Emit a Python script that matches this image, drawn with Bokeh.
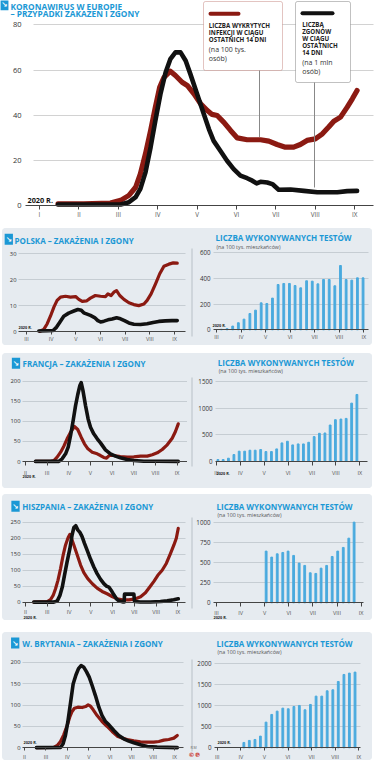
from bokeh.plotting import figure
from bokeh.models import Range1d, FixedTicker, Label, BoxAnnotation, Arrow, Spacer, Grid
from bokeh.layouts import column, row
from bokeh.embed import file_html
from bokeh.resources import INLINE

# ---------------- data (x in month units: 1 = I, 2 = II, ...) ----------------
roman = ["I", "II", "III", "IV", "V", "VI", "VII", "VIII", "IX"]
months = [1, 2, 3, 4, 5, 6, 7, 8, 9]

eu_inf_x = [1.47, 2.12, 2.80, 3.06, 3.27, 3.44, 3.56, 3.69, 3.82, 3.94, 4.05, 4.16, 4.32, 4.45, 4.62, 4.75, 4.92, 5.09, 5.26, 5.38,
            5.51, 5.68, 5.85, 6.02, 6.27, 6.61, 6.82, 7.03, 7.24, 7.45, 7.62, 7.79, 8.00, 8.18, 8.34, 8.47, 8.64, 8.81, 8.94, 9.06]
eu_inf = [0.9, 0.9, 1.2, 2.4, 4.6, 8.2, 14.1, 23.0, 33.3, 43.6, 52.4, 56.8, 59.5, 57.6, 54.6, 53.2, 49.5, 45.1, 42.1, 40.4,
          39.9, 36.9, 33.3, 30.0, 29.2, 29.2, 28.6, 27.1, 25.9, 25.9, 27.1, 28.9, 29.6, 31.8, 34.8, 37.4, 39.2, 43.6, 47.3, 51.0]
eu_dea_x = [1.47, 3.06, 3.27, 3.44, 3.56, 3.69, 3.82, 3.94, 4.07, 4.20, 4.32, 4.45, 4.58, 4.71, 4.83, 5.00, 5.17, 5.30, 5.42, 5.59,
            5.76, 5.93, 6.10, 6.27, 6.40, 6.51, 6.61, 6.78, 6.91, 7.07, 7.37, 7.71, 8.05, 8.56, 8.81, 9.06]
eu_dea = [0.6, 0.6, 1.6, 3.8, 7.5, 14.8, 25.9, 37.6, 49.4, 58.9, 64.8, 67.8, 67.8, 64.1, 58.2, 49.4, 40.6, 33.9, 28.7, 24.3,
          19.9, 16.2, 13.3, 12.2, 11.1, 9.9, 10.6, 10.3, 9.6, 7.1, 7.2, 6.6, 6.0, 6.0, 6.5, 6.6]
eu_yticks = [0, 20, 40, 60, 80]

pl_inf_x = [3.54, 3.70, 3.84, 3.97, 4.11, 4.24, 4.38, 4.58, 4.78, 4.99, 5.12, 5.26, 5.43, 5.59, 5.79, 6.00, 6.20, 6.30, 6.43, 6.54,
            6.65, 6.78, 6.95, 7.15, 7.35, 7.55, 7.76, 7.89, 8.05, 8.23, 8.40, 8.57, 8.77, 8.95, 9.11]
pl_inf = [0.1, 0.8, 3.0, 5.9, 9.4, 12.0, 13.3, 13.6, 13.3, 13.5, 12.4, 11.6, 11.8, 12.9, 13.9, 13.6, 13.5, 14.5, 13.9, 15.2,
          15.8, 13.9, 12.4, 11.1, 10.4, 10.0, 10.6, 12.0, 14.5, 18.4, 22.3, 25.2, 26.0, 26.5, 26.4]
pl_dea_x = [3.50, 3.84, 4.08, 4.22, 4.35, 4.51, 4.71, 4.92, 5.08, 5.22, 5.32, 5.43, 5.59, 5.76, 5.89, 6.00, 6.14, 6.30, 6.47, 6.65,
            6.81, 6.97, 7.15, 7.35, 7.62, 7.89, 8.13, 8.36, 8.63, 8.90, 9.11]
pl_dea = [0.2, 0.3, 0.4, 1.7, 3.6, 5.9, 7.1, 7.9, 8.5, 8.2, 7.2, 6.8, 6.2, 5.4, 4.2, 3.7, 4.0, 4.5, 4.8, 5.3,
          4.9, 4.2, 3.3, 2.8, 2.7, 3.0, 3.5, 3.9, 4.1, 4.2, 4.2]
pl_test_x = [3.20, 3.43, 3.66, 3.89, 4.12, 4.36, 4.59, 4.82, 5.05, 5.28, 5.51, 5.74, 5.97, 6.20, 6.43, 6.67, 6.90, 7.13, 7.36, 7.59,
             7.82, 8.05, 8.28, 8.51, 8.74, 8.97]
pl_test = [4, 9, 29, 55, 83, 127, 153, 210, 205, 247, 353, 361, 361, 345, 327, 382, 379, 358, 392, 392, 343, 501, 392, 387, 405, 405]
pl_yticks = [0, 10, 20, 30]
pl_test_yticks = [0, 200, 400, 600]

fr_inf_x = [2.46, 3.15, 3.31, 3.46, 3.62, 3.77, 3.92, 4.08, 4.26, 4.41, 4.57, 4.72, 4.88, 5.08, 5.31, 5.46, 5.61, 5.74, 5.86, 6.08,
            6.38, 6.69, 7.00, 7.31, 7.62, 7.85, 8.08, 8.31, 8.54, 8.77, 8.92, 9.05]
fr_inf = [0.3, 0.3, 2.5, 10.8, 23.2, 38.0, 56.4, 73.0, 87.0, 79.6, 60.5, 44.0, 31.5, 23.2, 19.1, 14.9, 10.0, 8.3, 14.9, 14.9,
          12.4, 10.8, 11.6, 13.3, 13.3, 16.6, 21.6, 29.9, 41.5, 58.0, 74.6, 93.7]
fr_dea_x = [2.46, 3.54, 3.69, 3.85, 3.97, 4.08, 4.20, 4.31, 4.41, 4.51, 4.57, 4.65, 4.77, 4.89, 5.00, 5.15, 5.31, 5.46, 5.69, 5.92,
            6.15, 6.38, 6.69, 7.00, 7.46, 8.08, 9.05]
fr_dea = [0.2, 0.3, 6.6, 19.1, 35.7, 64.7, 102, 139, 166, 189, 196, 177, 139, 106, 85.4, 68.8, 56.4, 46.4, 29.0, 19.1,
          13.3, 9.1, 5.0, 2.5, 0.8, 0.8, 0.3]
fr_test_x = [3.06, 3.28, 3.50, 3.73, 3.95, 4.18, 4.40, 4.62, 4.85, 5.07, 5.30, 5.52, 5.74, 5.97, 6.19, 6.42, 6.64, 6.86, 7.09, 7.31,
             7.54, 7.76, 7.98, 8.21, 8.43, 8.66, 8.88]
fr_test = [37, 37, 62, 130, 193, 193, 211, 211, 224, 186, 186, 236, 348, 379, 311, 329, 329, 360, 466, 528, 534, 683, 783, 795, 807, 1093, 1255]
fr_yticks = [0, 50, 100, 150, 200]
fr_test_yticks = [0, 500, 1000, 1500]

es_inf_x = [2.38, 3.00, 3.15, 3.27, 3.38, 3.49, 3.61, 3.73, 3.84, 3.96, 4.04, 4.11, 4.22, 4.38, 4.53, 4.68, 4.86, 5.07, 5.29, 5.52,
            5.75, 5.98, 6.21, 6.44, 6.75, 7.06, 7.29, 7.51, 7.71, 7.90, 8.08, 8.28, 8.47, 8.66, 8.82, 8.93, 9.02]
es_inf = [0.3, 2.1, 8.4, 21, 42, 68.3, 105, 147, 179, 202, 212, 200, 179, 147, 116, 92.4, 73.5, 57.8, 44.1, 33.6,
          26.3, 17.9, 10.5, 7.4, 7.4, 10.5, 16.8, 29.4, 47.3, 65.1, 84, 99.8, 121, 152, 179, 200, 231]
es_dea_x = [2.38, 3.30, 3.46, 3.58, 3.69, 3.79, 3.91, 4.04, 4.14, 4.22, 4.31, 4.40, 4.50, 4.60, 4.71, 4.83, 4.99, 5.14, 5.29, 5.45,
            5.60, 5.72, 5.83, 5.94, 6.06, 6.18, 6.29, 6.49, 6.53, 6.55, 6.98, 7.01, 7.28, 7.74, 8.20, 8.51, 8.81, 9.02]
es_dea = [0.3, 0.3, 4.2, 21, 47.3, 84, 126, 168, 210, 233, 239, 226, 218, 205, 184, 163, 134, 110, 89.3, 71.4,
          57.8, 50.4, 47.3, 36.8, 23.1, 10.5, 4.2, 0.5, 0.5, 25.2, 25.2, 2.1, 0.5, 0.5, 2.1, 4.2, 7.4, 10.5]
es_test_x = [5.06, 5.29, 5.52, 5.75, 5.97, 6.20, 6.43, 6.66, 6.89, 7.12, 7.34, 7.57, 7.80, 8.03, 8.26, 8.49, 8.71]
es_test = [646, 571, 612, 629, 646, 592, 496, 467, 375, 367, 433, 467, 579, 646, 692, 808, 1008]
es_yticks = [0, 50, 100, 150, 200, 250]
es_test_yticks = [0, 250, 500, 750, 1000]

uk_inf_x = [2.56, 3.37, 3.53, 3.68, 3.83, 3.99, 4.11, 4.22, 4.33, 4.49, 4.69, 4.85, 4.97, 5.08, 5.20, 5.39, 5.62, 5.86, 6.09, 6.33,
            6.56, 6.79, 7.10, 7.41, 7.73, 8.03, 8.27, 8.50, 8.73, 8.97, 9.13]
uk_inf = [0.3, 0.8, 5.4, 14.8, 30.3, 52.1, 71.5, 84.8, 92.5, 94.9, 94.1, 96.4, 100.3, 97.2, 89.4, 75.4, 61.4, 49.8, 38.1, 27.2,
          22.6, 19.4, 16.3, 14.0, 13.2, 13.2, 14.8, 17.9, 19.4, 22.6, 28.8]
uk_dea_x = [2.56, 3.68, 3.80, 3.91, 4.02, 4.15, 4.27, 4.40, 4.52, 4.64, 4.77, 4.89, 5.02, 5.16, 5.31, 5.47, 5.62, 5.78, 5.94, 6.17,
            6.40, 6.63, 6.87, 7.10, 7.41, 7.73, 8.19, 9.13]
uk_dea = [0.3, 0.8, 9.3, 28.8, 59.9, 106, 149, 170, 185, 192, 188, 178, 165, 145, 122, 94.9, 75.4, 61.4, 53.7, 40.4,
          28.8, 21.0, 15.6, 11.7, 7.0, 3.1, 1.6, 0.3]
uk_test_x = [4.13, 4.36, 4.60, 4.83, 5.07, 5.31, 5.54, 5.78, 6.01, 6.25, 6.48, 6.72, 6.95, 7.19, 7.43, 7.66, 7.90, 8.13, 8.37, 8.60, 8.84]
uk_test = [127, 175, 198, 278, 611, 794, 873, 944, 929, 984, 1008, 905, 1032, 1230, 1230, 1357, 1381, 1579, 1746, 1778, 1802]
uk_yticks = [0, 50, 100, 150, 200]
uk_test_yticks = [0, 500, 1000, 1500, 2000]

# ---------------- style ----------------
FONT = "Open Sans"
BLUE = "#1b98d5"
RED = "#8b1a12"
BLACK = "#111111"
BAR = "#4aaade"
PANEL = "#e6ebf0"
GRID_P = "#c6cdd3"
GRID_T = "#d2d2d2"
AXIS = "#444444"
HAS_CB = "cross_bounds" in Grid.properties()


def fs(v):
    return f"{v:.2f}px"


class Chart:
    """A figure whose frame fills the whole canvas; px/py are page pixel positions."""

    def __init__(self, box, xmap, ymap, bg):
        self.a, self.b = xmap
        self.c, self.d = ymap
        l, t, r, b = box
        self.p = figure(width=int(r - l), height=int(b - t), title=None,
                        output_backend="svg", toolbar_location=None,
                        x_range=Range1d(self.dx(l), self.dx(r)),
                        y_range=Range1d(self.dy(b), self.dy(t)),
                        min_border_left=0, min_border_right=0, min_border_top=0, min_border_bottom=0)
        p = self.p
        p.background_fill_color = bg
        p.border_fill_color = bg
        p.outline_line_color = None
        p.xgrid.visible = False

    def dx(self, px):
        return (px - self.a) / self.b

    def dy(self, py):
        return (self.c - py) / self.d

    def axes(self, xticks, yticks, gticks, grid_color, span, xfs, yfs, tick_out, lab_off, ystand, gx0=None):
        p = self.p
        x0, x1 = span
        g0 = x0 if gx0 is None else gx0
        xa = p.xaxis[0]
        ya = p.yaxis[0]
        xa.fixed_location = 0
        xa.bounds = (self.dx(min(x0, g0)), self.dx(x1))
        xa.ticker = FixedTicker(ticks=xticks)
        xa.major_label_overrides = {t: roman[t - 1] for t in xticks}
        xa.minor_tick_line_color = None
        xa.major_tick_in = 0
        xa.major_tick_out = int(round(tick_out))
        xa.major_label_standoff = max(0, int(round(lab_off - tick_out - 0.62 * xfs)))
        xa.axis_line_color = AXIS
        xa.major_tick_line_color = AXIS
        xa.major_label_text_font_size = fs(xfs)
        xa.major_label_text_color = "#555555"
        xa.major_label_text_font = FONT
        ya.fixed_location = self.dx(g0)
        ya.ticker = FixedTicker(ticks=yticks)
        ya.axis_line_color = None
        ya.major_tick_line_color = None
        ya.minor_tick_line_color = None
        ya.major_tick_in = 0
        ya.major_tick_out = 0
        ya.major_label_standoff = int(round(ystand))
        ya.major_label_text_font_size = fs(yfs)
        ya.major_label_text_color = "#333333"
        ya.major_label_text_font = FONT
        g = p.ygrid[0]
        g.ticker = FixedTicker(ticks=gticks)
        g.grid_line_color = grid_color
        g.grid_line_width = 1
        if HAS_CB:
            g.cross_bounds = (self.dx(g0), self.dx(x1))

    def text(self, px, py, s, size, color, bold=False, align="left", font=FONT, bg=None):
        lab = Label(x=self.dx(px), y=self.dy(py), text=s, text_font_size=fs(size), text_font=font,
                    text_font_style="bold" if bold else "normal", text_color=color,
                    text_align=align, text_baseline="middle")
        if bg is not None:
            lab.background_fill_color = bg
            lab.padding = 1
        self.p.add_layout(lab)

    def seg(self, x1, y1, x2, y2, color, width, cap="butt"):
        self.p.add_layout(Arrow(end=None, x_start=self.dx(x1), y_start=self.dy(y1),
                                x_end=self.dx(x2), y_end=self.dy(y2),
                                line_color=color, line_width=width, line_cap=cap))

    def icon(self, cx, cy):
        self.text(cx, cy, "↘", 7.5, "white", bold=True, align="center", font="DejaVu Sans", bg=BLUE)

    def lines(self, ix, iy, dx_, dy_, wr, wb):
        self.p.line(ix, iy, line_color=RED, line_width=wr, line_join="round", line_cap="round")
        self.p.line(dx_, dy_, line_color=BLACK, line_width=wb, line_join="round", line_cap="round")

    def bars(self, x, top):
        self.p.vbar(x=x, top=top, bottom=0, width=1.8 / self.b, color=BAR)


# ---------------- top: Europe ----------------
top = Chart((0, 0, 375, 228), (-0.4, 39.4), (205.3, 2.2625), "white")
top.axes(months, eu_yticks, eu_yticks[1:], GRID_T, (25, 373), 6.3, 7.5, 4.5, 8, 12, gx0=33)
top.lines(eu_inf_x, eu_inf, eu_dea_x, eu_dea, 5.2, 4.6)
top.icon(3.8, 4.2)
top.text(10, 5.5, "KORONAWIRUS W EUROPIE", 8.3, BLUE, bold=True)
top.text(10, 13, "– PRZYPADKI ZAKAŻEŃ I ZGONY", 8.3, BLUE, bold=True)
top.text(27, 199, "2020 R.", 7.3, "#111111", bold=True)
# legend boxes
top.p.add_layout(BoxAnnotation(left=top.dx(203), right=top.dx(282), top=top.dy(1), bottom=top.dy(70),
                               fill_color="white", fill_alpha=1, line_color="#a33a33", line_width=1, border_radius=2))
top.p.add_layout(BoxAnnotation(left=top.dx(295), right=top.dx(350), top=top.dy(1), bottom=top.dy(82),
                               fill_color="white", fill_alpha=1, line_color="#333333", line_width=1, border_radius=2))
top.seg(210, 13.3, 238, 13.3, RED, 4, "round")
top.seg(302, 12.7, 332, 12.7, BLACK, 4, "round")
for i, s in enumerate(["LICZBA WYKRYTYCH", "INFEKCJI W CIĄGU", "OSTATNICH 14 DNI"]):
    top.text(208.3, 25 + 7 * i, s, 6.2, "#222222", bold=True)
top.text(208.3, 48.5, "(na 100 tys.", 7, "#333333")
top.text(208.3, 58, "osób)", 7, "#333333")
for i, s in enumerate(["LICZBA", "ZGONÓW", "W CIĄGU", "OSTATNICH", "14 DNI"]):
    top.text(301.7, 24 + 6.9 * i, s, 6.2, "#222222", bold=True)
top.text(301.7, 61.7, "(na 1 mln", 7, "#333333")
top.text(301.7, 70.7, "osób)", 7, "#333333")
# leaders
top.seg(259, 70, 259, 136.5, "#888888", 1)
top.seg(314, 82, 314, 187, "#888888", 1)

SPLIT = 187


def panel(y0, y1, name, icon_c, title_xy, rtitle_xy, sub_y, lxmap, lymap, lspan, rxmap, rymap, rspan,
          ticks_l, yt, ytt, inf_x, inf, dea_x, dea, tx, tv, lab_off, tick_out, div, tag_l, tag_r):
    left = Chart((2, y0, SPLIT, y1), lxmap, lymap, PANEL)
    left.axes(ticks_l, yt, yt[1:], GRID_P, lspan, 5.5, 5.8, tick_out, lab_off, 1.5)
    left.lines(inf_x, inf, dea_x, dea, 3.2, 3.6)
    left.icon(*icon_c)
    left.text(title_xy[0], title_xy[1], name, 8, BLUE, bold=True)
    left.text(tag_l[0], tag_l[1], "2020 R.", 3.8, "#222222", bold=True)
    right = Chart((SPLIT, y0, 372, y1), rxmap, rymap, PANEL)
    right.axes([3, 4, 5, 6, 7, 8, 9], ytt, ytt[1:], GRID_P, rspan, 5.5, 6.2, tick_out, lab_off, 3)
    right.bars(tx, tv)
    right.text(rtitle_xy[0], rtitle_xy[1], "LICZBA WYKONYWANYCH TESTÓW", 8, BLUE, bold=True)
    right.text(rtitle_xy[0] + 1, sub_y, "(na 100 tys. mieszkańców)", 5.3, "#555555")
    right.text(tag_r[0], tag_r[1], "2020 R.", 3.8, "#222222", bold=True)
    right.seg(191.5, div[0], 191.5, div[1], "#b8c0c7", 1)
    return left, right


p1l, p1r = panel(228, 345, "POLSKA – ZAKAŻENIA I ZGONY", (8.3, 238.7), (14, 239.5), (215, 237.3), 246,
                 (-48, 24.67), (331, 2.59), (18, 185), (142.35, 24.55), (329.3, 0.1283), (213, 368),
                 [3, 4, 5, 6, 7, 8, 9], pl_yticks, pl_test_yticks, pl_inf_x, pl_inf, pl_dea_x, pl_dea,
                 pl_test_x, pl_test, 6, 3, (248, 336), (18, 327), (212, 324.5))
p2l, p2r = panel(353, 488, "FRANCJA – ZAKAŻENIA I ZGONY", (15.5, 362.8), (22, 363.3), (217.3, 362.3), 370.7,
                 (-18.34, 21.67), (461, 0.402), (22, 186.7), (144.35, 23.88), (461, 0.0534), (215, 367),
                 [2, 3, 4, 5, 6, 7, 8, 9], fr_yticks, fr_test_yticks, fr_inf_x, fr_inf, fr_dea_x, fr_dea,
                 fr_test_x, fr_test, 10, 4, (377, 466), (22, 476), (216, 472.5))
p3l, p3r = panel(494, 620, "HISZPANIA – ZAKAŻENIA I ZGONY", (15, 505.8), (21.7, 505.7), (216, 505.7), 514,
                 (-18.5, 21.76), (601.7, 0.32), (22, 185), (143.7, 24.1), (602.3, 0.08), (213, 363),
                 [2, 3, 4, 5, 6, 7, 8, 9], es_yticks, es_test_yticks, es_inf_x, es_inf, es_dea_x, es_dea,
                 es_test_x, es_test, 9.5, 4, (517, 608), (23, 617), (213, 617))
p4l, p4r = panel(632, 760, "W. BRYTANIA – ZAKAŻENIA I ZGONY", (14.7, 642.5), (21.7, 643.3), (216, 643.3), 651,
                 (-18.86, 21.43), (747.3, 0.428), (22, 183), (145.9, 23.6), (747.3, 0.042), (214, 360),
                 [2, 3, 4, 5, 6, 7, 8, 9], uk_yticks, uk_test_yticks, uk_inf_x, uk_inf, uk_dea_x, uk_dea,
                 uk_test_x, uk_test, 8, 3, (659, 751), (23, 742), (217, 742))
p4r.text(193, 747, "R.M", 3.5, "#666666", align="center")
p4r.text(194, 754, "©℗", 6, "#c8281e", bold=True, align="center", font="DejaVu Sans")


def prow(l, r, y0, y1):
    h = int(y1 - y0)
    inner = row(l.p, r.p, spacing=0, styles={"background-color": PANEL, "border-radius": "4px", "overflow": "hidden"})
    return row(Spacer(width=2, height=h), inner, Spacer(width=3, height=h), spacing=0)


def gap(y0, y1):
    return Spacer(width=375, height=int(y1 - y0))


layout = column(top.p,
                prow(p1l, p1r, 228, 345), gap(345, 353),
                prow(p2l, p2r, 353, 488), gap(488, 494),
                prow(p3l, p3r, 494, 620), gap(620, 632),
                prow(p4l, p4r, 632, 760), spacing=0)

open("out.html", "w").write(file_html(layout, INLINE, title="Koronawirus w Europie"))
